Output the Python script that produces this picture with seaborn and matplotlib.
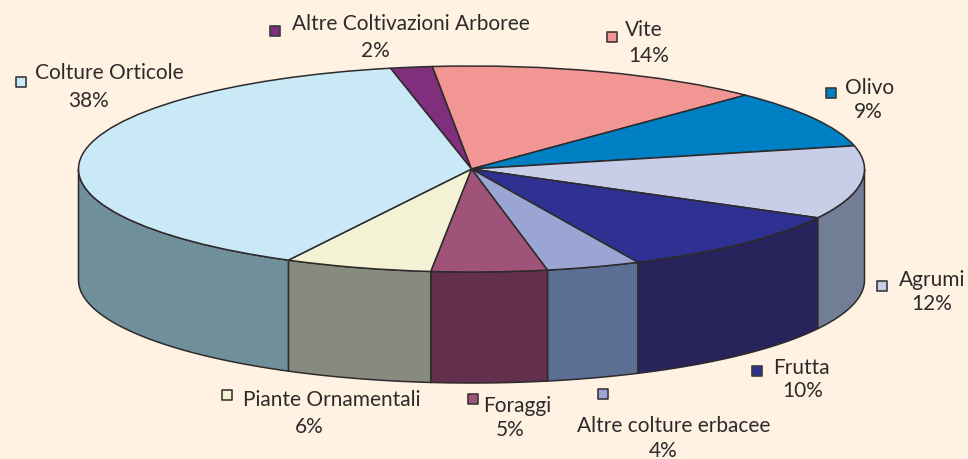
"""3D-style pie of cultivated area shares."""

import matplotlib

matplotlib.use("Agg")
import matplotlib.pyplot as plt
import numpy as np
import seaborn as sns

labels = [
    "Altre Coltivazioni Arboree",
    "Vite",
    "Olivo",
    "Agrumi",
    "Frutta",
    "Altre colture erbacee",
    "Foraggi",
    "Piante Ornamentali",
    "Colture Orticole",
]
pct_labels = ["2%", "14%", "9%", "12%", "10%", "4%", "5%", "6%", "38%"]
# slice sizes as measured on the disc, the tilted view squeezes them a little
values = [1.72, 13.86, 9.11, 11.47, 10.19, 3.86, 4.75, 6.06, 38.98]

top_colors = ["#7F2F7C", "#F29694", "#0080C4", "#C9CEE8", "#2E3192", "#9AA5D3", "#9F5378", "#F3F2D5", "#C9E9F6"]
side_colors = ["#5A2258", "#AB6A69", "#005A8A", "#717E96", "#28235B", "#5B6F94", "#62304C", "#868B7D", "#6F909B"]

# label placement in image pixels: name centre, percent centre, marker centre
name_pos = [(411, 24), (644, 30), (870, 88), (932, 280), (801, 368), (674, 426), (517, 406), (332, 400), (109, 73)]
pct_pos = [(375, 51), (649, 56), (868, 112), (932, 304), (803, 391), (663, 451), (510, 430), (309, 427), (89, 101)]
marker_pos = [(275, 32), (612, 38), (831, 94), (882, 287), (757, 372), (603, 395), (473, 400), (227, 396), (21, 83)]

BG = "#FFF2E3"
INK = "#2E2A2B"
CX, CY, RX, RY = 471.5, 170.0, 393.0, 103.0
DEPTH = 111.0 / RY
START = 101.9


def to_x(px):
    return (px - CX) / RX


def to_y(py):
    return (CY - py) / RY


sns.set_theme(style="white", rc={"figure.facecolor": BG, "axes.facecolor": BG})
plt.rcParams["font.family"] = ["Lato", "DejaVu Sans"]

fig = plt.figure(figsize=(9.68, 4.6), dpi=100)
ax = fig.add_axes([0, 0, 1, 1])

# outer wall, only the front half of the disc is visible
edges = START - np.cumsum([0] + values) * 3.6
for hi, lo, color in zip(edges[:-1], edges[1:], side_colors):
    hi_c, lo_c = min(hi, 0.0), max(lo, -180.0)
    if hi_c <= lo_c:
        continue
    theta = np.radians(np.linspace(hi_c, lo_c, 80))
    xs = np.cos(theta)
    ys = np.sin(theta)
    ax.fill(
        np.r_[xs, xs[::-1]],
        np.r_[ys, ys[::-1] - DEPTH],
        facecolor=color,
        edgecolor=INK,
        linewidth=1.1,
    )

ax.pie(
    values,
    colors=sns.color_palette(top_colors),
    startangle=START,
    counterclock=False,
    wedgeprops={"edgecolor": INK, "linewidth": 1.1},
)
ax.set_aspect("auto")
ax.set_xlim(to_x(0), to_x(968))
ax.set_ylim(to_y(460), to_y(0))
ax.axis("off")

for name, pct, np_, pp, mp, color in zip(labels, pct_labels, name_pos, pct_pos, marker_pos, top_colors):
    ax.text(to_x(np_[0]), to_y(np_[1]), name, ha="center", va="center", fontsize=15, color=INK)
    ax.text(to_x(pp[0]), to_y(pp[1]), pct, ha="center", va="center", fontsize=15, color=INK)
    ax.scatter(to_x(mp[0]), to_y(mp[1]), marker="s", s=48, facecolor=color, edgecolor="#3A3A3A", linewidth=1.2, zorder=5)

fig.savefig("out.png", dpi=100, facecolor=BG)
